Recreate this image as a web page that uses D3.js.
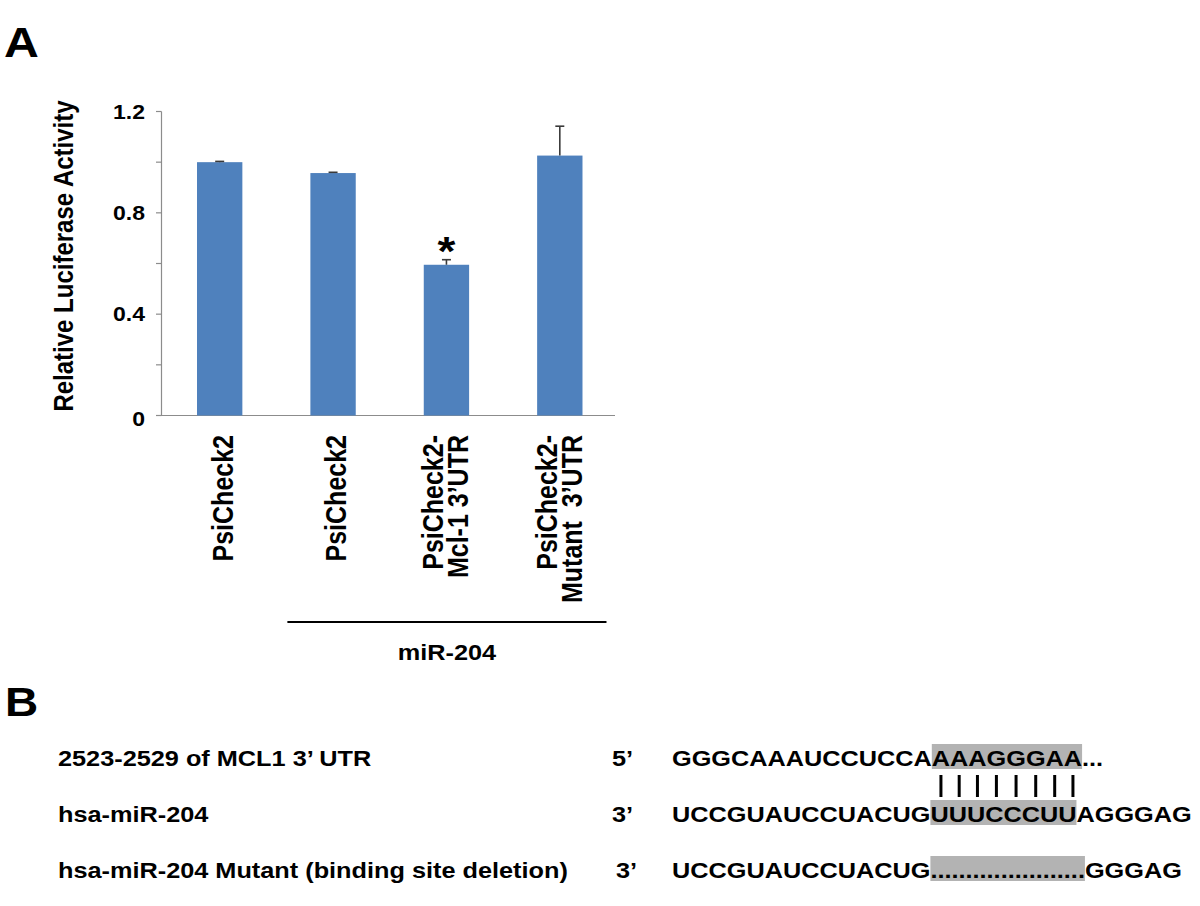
<!DOCTYPE html>
<html>
<head>
<meta charset="utf-8">
<script src="https://cdn.jsdelivr.net/npm/d3@7"></script>
<style>
  body { margin: 0; background: #fff; }
  svg { display: block; font-family: "Liberation Sans", Arial, sans-serif; font-weight: bold; }
</style>
</head>
<body>
<svg id="fig" width="1200" height="906"></svg>
<script>
// panel A data
const groups = ["ctrl", "mir", "mcl1", "mutant"];
const groupLabels = [["PsiCheck2"], ["PsiCheck2"], ["PsiCheck2-", "Mcl-1 3\u2019UTR"], ["PsiCheck2-", "Mutant  3\u2019UTR"]];
const values = [1.0, 0.957, 0.595, 1.026];
const errors = [0.003, 0.003, 0.02, 0.116];
const significant = [false, false, true, false];
const yTicks = [0, 0.2, 0.4, 0.6, 0.8, 1.0, 1.2];
const yTickLabels = ["0", "", "0.4", "", "0.8", "", "1.2"];
const treatmentLabel = "miR-204";
const treatedGroups = ["mir", "mcl1", "mutant"];

// panel B data
const rowLabels = ["2523-2529 of MCL1 3\u2019 UTR", "hsa-miR-204", "hsa-miR-204 Mutant (binding site deletion)"];
const rowEnds = ["5\u2019", "3\u2019", "3\u2019"];
const rowSeqs = [
  ["GGGCAAAUCCUCCA", "AAAGGGAA", "..."],
  ["UCCGUAUCCUACUG", "UUUCCCUU", "AGGGAG"],
  ["UCCGUAUCCUACUG", "......................", "GGGAG"]
];

const sx = 1.15;  // the figure is a bit stretched sideways
const svg = d3.select("#fig");

function hText(parent, x, y, str, size, anchor) {
  return parent.append("g")
    .attr("transform", `translate(${x},${y}) scale(${sx},1)`)
    .append("text")
    .attr("font-size", size)
    .attr("text-anchor", anchor || "start")
    .style("white-space", "pre")
    .text(str);
}

// ---------- panel A ----------
hText(svg, 4, 57, "A", 42);

let y = d3.scaleLinear().domain([0, 1.2]).range([415.5, 111.5]);
let x = d3.scaleBand().domain(groups).range([163, 616.5]).paddingInner(0.6).paddingOuter(0.3);

let axisColor = "#8c8c8c";
svg.append("line")
  .attr("x1", 161.5).attr("x2", 161.5)
  .attr("y1", y(1.2)).attr("y2", y(0))
  .attr("stroke", axisColor).attr("stroke-width", 1.2);
svg.append("line")
  .attr("x1", 156).attr("x2", 615)
  .attr("y1", y(0)).attr("y2", y(0))
  .attr("stroke", axisColor).attr("stroke-width", 1.2);

svg.selectAll(".ytick")
  .data(yTicks)
  .enter()
  .append("line")
    .attr("x1", 156).attr("x2", 161.5)
    .attr("y1", d => y(d)).attr("y2", d => y(d))
    .attr("stroke", axisColor).attr("stroke-width", 1.2);

yTicks.forEach((t, i) => {
  if (!yTickLabels[i]) return;
  hText(svg, 145, y(t) + 7 + (t === 0 ? 3 : 0), yTickLabels[i], 20, "end");
});

svg.append("g")
  .attr("transform", `translate(73,256) scale(${sx},1) rotate(-90)`)
  .append("text")
  .attr("font-size", 24)
  .attr("text-anchor", "middle")
  .text("Relative Luciferase Activity");

svg.append("g")
  .selectAll("rect")
  .data(values)
  .enter()
  .append("rect")
    .attr("x", (d, i) => x(groups[i]))
    .attr("y", d => y(d))
    .attr("width", x.bandwidth())
    .attr("height", d => y(0) - y(d))
    .attr("fill", "#4f81bd");

// error bars, upper half only
let eb = svg.append("g").attr("stroke", "#3a3a3a").attr("stroke-width", 1.6);
values.forEach((v, i) => {
  let cx = x(groups[i]) + x.bandwidth() / 2;
  eb.append("line").attr("x1", cx).attr("x2", cx).attr("y1", y(v)).attr("y2", y(v + errors[i]));
  eb.append("line").attr("x1", cx - 4.5).attr("x2", cx + 4.5).attr("y1", y(v + errors[i])).attr("y2", y(v + errors[i]));
  if (significant[i]) {
    hText(svg, cx, y(v + errors[i]) + 5, "*", 40, "middle");
  }
});

// rotated category labels
groups.forEach((g, i) => {
  let cx = x(g) + x.bandwidth() / 2;
  let lines = groupLabels[i];
  lines.forEach((ln, j) => {
    let bx = cx + 13 - (lines.length - 1) * 16 + j * 25;
    svg.append("g")
      .attr("transform", `translate(${bx},435) scale(${sx},1) rotate(-90)`)
      .append("text")
      .attr("font-size", 25)
      .attr("text-anchor", "end")
      .style("white-space", "pre")
      .text(ln);
  });
});

let tx0 = x(treatedGroups[0]) - 23;
let tx1 = x(treatedGroups[treatedGroups.length - 1]) + x.bandwidth() + 24;
svg.append("line")
  .attr("x1", tx0).attr("x2", tx1)
  .attr("y1", 622).attr("y2", 622)
  .attr("stroke", "#000").attr("stroke-width", 2.2);
hText(svg, (tx0 + tx1) / 2, 660, treatmentLabel, 22, "middle");

// ---------- panel B ----------
hText(svg, 5, 716, "B", 40);

let rowY = [766, 822, 878];
let seqX = 672;

rowLabels.forEach((lab, i) => {
  hText(svg, 58, rowY[i], lab, 22);
  hText(svg, 612 + (i === 2 ? 4 : 0), rowY[i], rowEnds[i], 22);

  let g = svg.append("g").attr("transform", `translate(${seqX},${rowY[i]}) scale(${sx},1)`);
  let hl = g.append("g");
  let t = g.append("text").attr("font-size", 22).style("white-space", "pre");
  rowSeqs[i].forEach(part => t.append("tspan").text(part));

  let node = t.node();
  let a = rowSeqs[i][0].length, b = rowSeqs[i][1].length;
  let start = node.getSubStringLength(0, a);
  let w = node.getSubStringLength(a, b);
  hl.append("rect")
    .attr("x", start).attr("y", -22)
    .attr("width", w).attr("height", 25)
    .attr("fill", "#b3b3b3");

  // base pairing marks under the matched site of the first row
  if (i === 0) {
    let marks = g.append("g").attr("stroke", "#000").attr("stroke-width", 3 / sx);
    for (let k = 0; k < b; k++) {
      let ext = node.getExtentOfChar(a + k);
      let mx = ext.x + ext.width / 2;
      marks.append("line").attr("x1", mx).attr("x2", mx).attr("y1", 9).attr("y2", 31);
    }
  }
});
</script>
</body>
</html>
